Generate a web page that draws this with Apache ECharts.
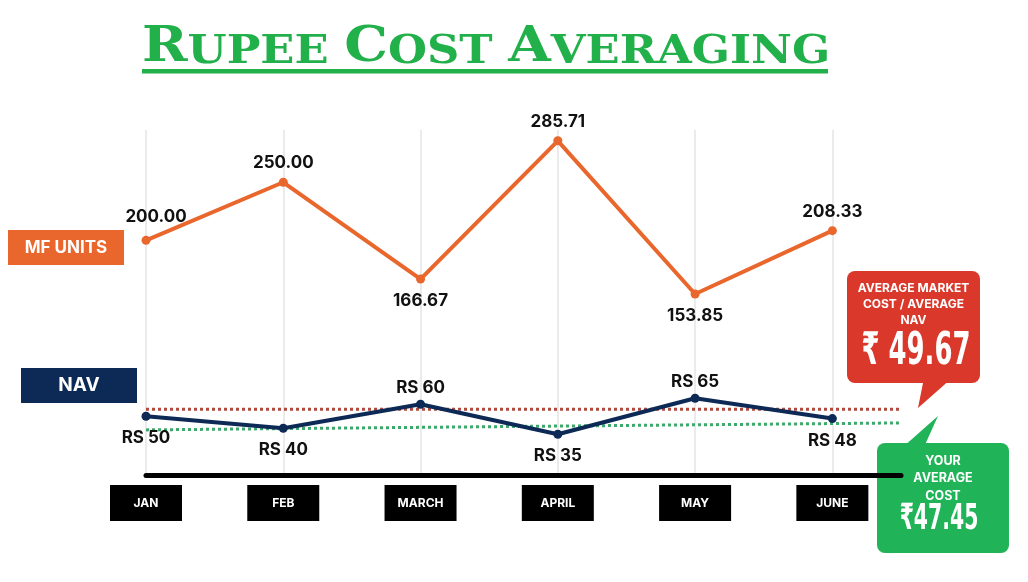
<!DOCTYPE html>
<html>
<head>
<meta charset="utf-8">
<title>Rupee Cost Averaging</title>
<script src="https://cdn.jsdelivr.net/npm/echarts@6/dist/echarts.min.js"></script>
<style>
  html, body { margin: 0; padding: 0; background: #fff; }
  #main { width: 1028px; height: 582px; }
</style>
</head>
<body>
<div id="main"></div>
<script>
// data
const months = ['JAN', 'FEB', 'MARCH', 'APRIL', 'MAY', 'JUNE'];
const mfUnits = [200.00, 250.00, 166.67, 285.71, 153.85, 208.33];
const navValues = [50, 40, 60, 35, 65, 48];
const avgMarketCost = 49.67;
const avgCost = 47.45;
// the two dotted guides, as drawn (NAV axis units at left end / right end)
const marketGuide = [55.8, 55.8];
const costGuide = [38.6, 44.4];

// label placement (styling only)
const mfLabelPos = ['top', 'top', 'bottom', 'top', 'bottom', 'top'];
const navLabelPos = ['bottom', 'bottom', 'top', 'bottom', 'top', 'bottom'];

const xMax = 5.5;   // axis runs a bit past JUNE, under the green bubble
const ORANGE = '#e9672d';
const NAVY = '#0c2a55';
const FONT = 'Inter, "Open Sans", sans-serif';
const BIG_FONT = '"DejaVu Sans Condensed", "DejaVu Sans", "Noto Sans", sans-serif';

const chart = echarts.init(document.getElementById('main'));

function guide(levels) {
  return [[0, levels[0]], [xMax, levels[1]]];
}

function points(values, positions, upGap, downGap) {
  return values.map(function (v, i) {
    const pos = positions[i];
    return { value: [i, v], label: { position: pos, distance: pos === 'top' ? upGap : downGap } };
  });
}

const mfData = points(mfUnits, mfLabelPos, 6, 9);
// first label sits a little right of its point in the picture
mfData[0].label.offset = [10, -4];

const option = {
  animation: false,
  backgroundColor: '#fff',
  grid: { left: 146, right: 127, top: 130, bottom: 107 },
  xAxis: {
    type: 'value',
    min: 0,
    max: xMax,
    interval: 1,
    axisLine: { onZero: false, lineStyle: { color: '#000', width: 5 } },
    axisTick: { show: false },
    splitLine: { show: true, showMaxLine: false, lineStyle: { color: '#e4e4e4', width: 1.5 } },
    axisLabel: {
      showMaxLabel: false,
      margin: 10,
      formatter: function (v) { return Number.isInteger(v) ? months[v] : ''; },
      color: '#fff',
      backgroundColor: '#000',
      width: 72,
      height: 36,
      lineHeight: 36,
      align: 'center',
      fontFamily: FONT,
      fontWeight: 700,
      fontSize: 12
    }
  },
  yAxis: [
    { type: 'value', min: -2, max: 295, show: false },
    { type: 'value', min: 1, max: 288.5, show: false }
  ],
  series: [
    {
      name: 'avg market line',
      type: 'line',
      yAxisIndex: 1,
      z: 1,
      symbol: 'none',
      data: guide(marketGuide),
      lineStyle: { color: '#b04a3e', width: 3, type: [3, 3] }
    },
    {
      name: 'avg cost line',
      type: 'line',
      yAxisIndex: 1,
      z: 1,
      symbol: 'none',
      data: guide(costGuide),
      lineStyle: { color: '#3aa96a', width: 3, type: [3, 3] }
    },
    {
      name: 'MF UNITS',
      type: 'line',
      yAxisIndex: 0,
      z: 3,
      symbol: 'circle',
      symbolSize: 9,
      itemStyle: { color: ORANGE },
      lineStyle: { color: ORANGE, width: 4 },
      data: mfData,
      label: {
        show: true,
        formatter: function (p) { return p.value[1].toFixed(2); },
        color: '#111',
        fontFamily: FONT,
        fontWeight: 700,
        fontSize: 17
      }
    },
    {
      name: 'NAV',
      type: 'line',
      yAxisIndex: 1,
      z: 3,
      symbol: 'circle',
      symbolSize: 9,
      itemStyle: { color: NAVY },
      lineStyle: { color: NAVY, width: 4 },
      data: points(navValues, navLabelPos, 3, 9),
      label: {
        show: true,
        formatter: function (p) { return 'RS ' + p.value[1]; },
        color: '#111',
        fontFamily: FONT,
        fontWeight: 700,
        fontSize: 17
      }
    }
  ],
  graphic: [
    // title in small caps
    {
      type: 'text',
      x: 142,
      y: 73,
      scaleX: 1.12,
      style: {
        text: '{b|R}{s|UPEE }{b|C}{s|OST }{b|A}{s|VERAGING}',
        fill: '#22b04b',
        verticalAlign: 'bottom',
        rich: {
          b: { fontFamily: '"DejaVu Serif", serif', fontWeight: 'bold', fontSize: 49, fill: '#22b04b', verticalAlign: 'bottom' },
          s: { fontFamily: '"DejaVu Serif", serif', fontWeight: 'bold', fontSize: 40, fill: '#22b04b', verticalAlign: 'bottom' }
        }
      }
    },
    { type: 'rect', shape: { x: 142, y: 69, width: 686, height: 4.5 }, style: { fill: '#22b04b' } },

    // series tags
    { type: 'rect', shape: { x: 8, y: 230, width: 116, height: 35 }, style: { fill: ORANGE } },
    {
      type: 'text', x: 66, y: 247.5,
      style: { text: 'MF UNITS', fill: '#fff', font: '700 17px ' + FONT, align: 'center', verticalAlign: 'middle' }
    },
    { type: 'rect', shape: { x: 21, y: 368, width: 116, height: 35 }, style: { fill: NAVY } },
    {
      type: 'text', x: 79, y: 385.5,
      style: { text: 'NAV', fill: '#fff', font: '700 19px ' + FONT, align: 'center', verticalAlign: 'middle' }
    },

    // red bubble: average market cost
    {
      type: 'group',
      z: 10,
      children: [
        { type: 'polygon', shape: { points: [[924, 378], [952, 378], [918, 408]] }, style: { fill: '#d9382a' } },
        { type: 'rect', shape: { x: 847, y: 271, width: 133, height: 112, r: 8 }, style: { fill: '#d9382a' } },
        {
          type: 'text', x: 913.5, y: 280,
          style: {
            text: 'AVERAGE MARKET\nCOST / AVERAGE\nNAV',
            fill: '#fff', font: '700 12px ' + FONT, lineHeight: 16, align: 'center', verticalAlign: 'top'
          }
        },
        {
          type: 'text', x: 916, y: 352, scaleX: 0.64,
          style: {
            text: '₹ ' + avgMarketCost.toFixed(2),
            fill: '#fff', font: '700 45px ' + BIG_FONT,
            align: 'center', verticalAlign: 'middle'
          }
        }
      ]
    },

    // green bubble: your average cost
    {
      type: 'group',
      z: 10,
      children: [
        { type: 'polygon', shape: { points: [[903, 447], [924, 447], [938, 416]] }, style: { fill: '#20b358' } },
        { type: 'rect', shape: { x: 877, y: 443, width: 132, height: 110, r: 8 }, style: { fill: '#20b358' } },
        {
          type: 'text', x: 943, y: 452,
          style: {
            text: 'YOUR\nAVERAGE\nCOST',
            fill: '#fff', font: '700 12.5px ' + FONT, lineHeight: 17.5, align: 'center', verticalAlign: 'top'
          }
        },
        {
          type: 'text', x: 939, y: 520, scaleX: 0.63,
          style: {
            text: '₹' + avgCost.toFixed(2),
            fill: '#fff', font: '700 36px ' + BIG_FONT,
            align: 'center', verticalAlign: 'middle'
          }
        }
      ]
    }
  ]
};

chart.setOption(option);
</script>
</body>
</html>
